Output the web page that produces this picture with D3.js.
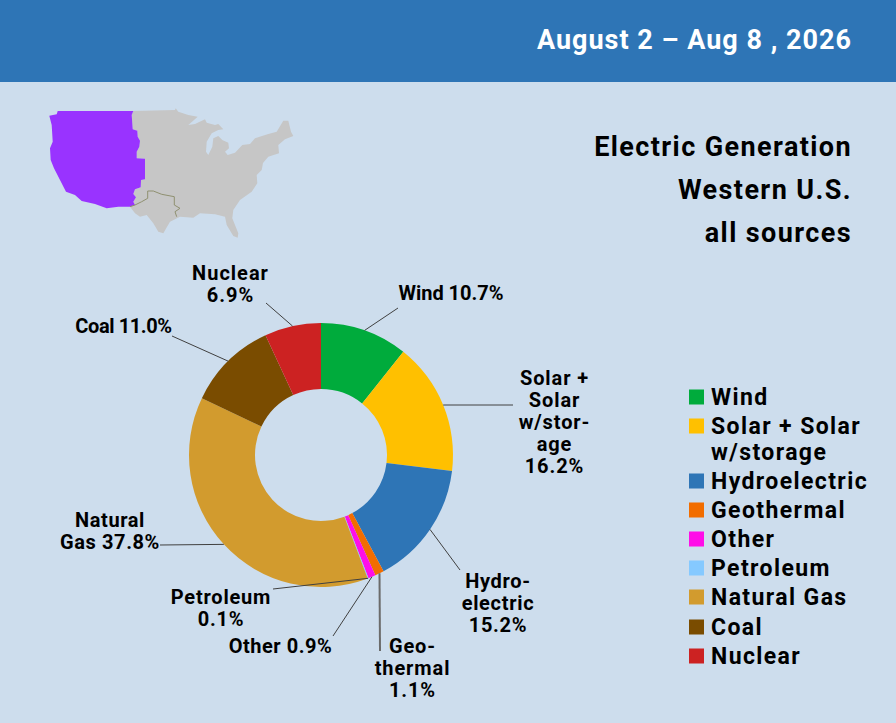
<!DOCTYPE html>
<html>
<head>
<meta charset="utf-8">
<title>Electric Generation Western U.S.</title>
<script src="https://cdn.jsdelivr.net/npm/d3@7"></script>
<style>
    html, body { margin: 0; padding: 0; background: #cddded; }
    svg { display: block; }
    text { font-family: Roboto, sans-serif; font-weight: 700; fill: #000; }
</style>
</head>
<body>
<div id="chart"></div>
<script>
// values
var categories = ["Wind", "Solar + Solar w/storage", "Hydroelectric", "Geothermal", "Other", "Petroleum", "Natural Gas", "Coal", "Nuclear"];
var shares = [10.7, 16.2, 15.2, 1.1, 0.9, 0.1, 37.8, 11.0, 6.9];
var colors = ["#00ab3c", "#ffc000", "#2e75b6", "#f26d00", "#ff0de8", "#85c9ff", "#d29b2e", "#7a4c00", "#cc2222"];
var titleLines = ["Electric Generation", "Western U.S.", "all sources"];
var dateLabel = "August 2 \u2013 Aug 8 , 2026";

// slice labels, line by line, with hand placed text and leader ends
var labelLines = [
    ["Wind 10.7%"],
    ["Solar +", "Solar", "w/stor-", "age", "16.2%"],
    ["Hydro-", "electric", "15.2%"],
    ["Geo-", "thermal", "1.1%"],
    ["Other 0.9%"],
    ["Petroleum", "0.1%"],
    ["Natural", "Gas 37.8%"],
    ["Coal 11.0%"],
    ["Nuclear", "6.9%"]
];
var labelCenters = [[451, 300], [554.5, 385], [498, 588], [412.5, 653], [280.5, 653], [221, 604], [110, 527], [123.5, 333], [230.5, 280]];
var labelSpacing = [0, 0.9, 0.7, 0.9, 0.5, 0.8, 0.6, -0.4, 1];
var leaderEnds = [[398, 308], [513, 405], [460, 570], [380, 651], [333, 636], [273, 589], [160, 545], [172, 336], [266, 303]];
var leaderWidths = [1, 1, 1, 2, 1, 1, 1, 1, 1];

// map outline
var westOutline = [[57.7,111],[133.3,111],[131.7,115],[132.7,129.3],[137.3,130.7],[137.7,136.7],[140,140.7],[139.3,146.7],[136.7,151.7],[136.7,158.3],[145,158.7],[145,179.3],[141,180],[140.7,187.3],[135,189.3],[133.3,194],[136,197.3],[133.3,201.7],[135,205],[130,206.7],[118.3,206.7],[106.7,208.3],[95,204],[81.7,201],[75,195],[66,191.7],[60,180],[54,168.3],[50.7,160],[50,148.3],[52.7,141.7],[51.7,125],[49.3,115.7],[56.7,114.3]];
var eastOutline = [[133.3,111],[175,110],[175.7,108.3],[178.3,111.7],[188.3,115],[197.7,116.7],[188.3,125],[195,124],[205,119.3],[206.7,122.7],[215,125],[218.3,124],[223.3,129.3],[218.3,130],[211.7,133.3],[206.7,141.7],[206,151.7],[208.3,155],[212.3,146.7],[213.3,138.3],[218.3,136],[222.3,140],[228.3,142.7],[229,148.3],[225,151.7],[227.7,155],[235,152.7],[242.3,145],[250,144],[255,138.3],[268.3,134],[276.7,131.7],[283.3,120.7],[288.3,120.7],[291,131.7],[293.3,136],[285,139.3],[278.3,145],[279,153.3],[268.3,156.7],[263,163],[261.7,170],[256.7,175],[257.3,183.3],[251.7,191.7],[240,200],[233.3,210],[232.3,218.3],[238.3,233.3],[237.7,237.7],[233.3,236],[226.7,225],[225,216.7],[215,214.3],[200,213.3],[193.3,217.7],[180,216.7],[170,221.7],[163.3,233.3],[158.3,231.7],[153.3,223.3],[146.7,215],[140,216.7],[135,213.3],[130,206.7],[135,205],[133.3,201.7],[136,197.3],[133.3,194],[135,189.3],[140.7,187.3],[141,180],[145,179.3],[145,158.7],[136.7,158.3],[136.7,151.7],[139.3,146.7],[140,140.7],[137.7,136.7],[137.3,130.7],[132.7,129.3],[131.7,115]];
var texasBorder = [[130,206.7],[135,205],[141.7,201.7],[147.7,198.3],[147.7,191],[153.3,191],[161.7,194.3],[174.3,196.7],[174.3,205],[180,208.3],[175,211.7],[176.7,216.7]];

var width = 896, height = 723;
var cx = 321, cy = 455, outerR = 132, innerR = 66;

var svg = d3.select("#chart").append("svg").attr("width", width).attr("height", height);

svg.append("rect").attr("width", width).attr("height", 82).attr("fill", "#2e75b6");
svg.append("text").attr("x", 852).attr("y", 49).attr("text-anchor", "end")
    .attr("font-size", 27).style("fill", "#fff").style("letter-spacing", "1px").text(dateLabel);

titleLines.forEach(function (t, i) {
    svg.append("text").attr("x", 852).attr("y", 156 + i * 43).attr("text-anchor", "end")
        .attr("font-size", 27).style("letter-spacing", "1.4px").text(t);
});

var map = svg.append("g");
var mapLine = d3.line().curve(d3.curveLinearClosed);
map.append("path").attr("d", mapLine(eastOutline)).attr("fill", "#c6c6c6");
map.append("path").attr("d", mapLine(westOutline)).attr("fill", "#9933ff");
map.append("path").attr("d", d3.line()(texasBorder)).attr("fill", "none").attr("stroke", "#8f9070").attr("stroke-width", 1);

// donut
var pie = d3.pie().sort(null).value(function (d) { return d; });
var arc = d3.arc().innerRadius(innerR).outerRadius(outerR);
var arcs = pie(shares);
var ring = svg.append("g").attr("transform", "translate(" + cx + "," + cy + ")");
ring.selectAll("path").data(arcs).enter().append("path")
    .attr("d", arc)
    .attr("fill", function (d, i) { return colors[i]; });

// leaders start on the outer edge at the middle of each slice
svg.append("g").selectAll("line").data(arcs).enter().append("line")
    .attr("x1", function (d) { return cx + outerR * Math.sin((d.startAngle + d.endAngle) / 2); })
    .attr("y1", function (d) { return cy - outerR * Math.cos((d.startAngle + d.endAngle) / 2); })
    .attr("x2", function (d, i) { return leaderEnds[i][0]; })
    .attr("y2", function (d, i) { return leaderEnds[i][1]; })
    .attr("stroke", function (d, i) { return leaderWidths[i] > 1 ? "#6b6b6b" : "#404040"; })
    .attr("stroke-width", function (d, i) { return leaderWidths[i]; });

labelLines.forEach(function (lines, i) {
    lines.forEach(function (t, j) {
        svg.append("text").attr("x", labelCenters[i][0]).attr("y", labelCenters[i][1] + j * 22)
            .attr("text-anchor", "middle").attr("font-size", 20)
            .style("letter-spacing", labelSpacing[i] + "px").text(t);
    });
});

// legend
var legendRowY = d3.scaleOrdinal().domain(categories).range([397, 426, 481, 510, 539, 568, 597, 627, 656]);
var legend = svg.append("g");
categories.forEach(function (c, i) {
    var y = legendRowY(c);
    legend.append("rect").attr("x", 689).attr("y", y - 7.5).attr("width", 15).attr("height", 15).attr("fill", colors[i]);
    var parts = i === 1 ? ["Solar + Solar", "w/storage"] : [c];
    parts.forEach(function (t, j) {
        legend.append("text").attr("x", 711).attr("y", y + 8 + j * 26).attr("font-size", 23)
            .style("letter-spacing", "1.4px").text(t);
    });
});
</script>
</body>
</html>
